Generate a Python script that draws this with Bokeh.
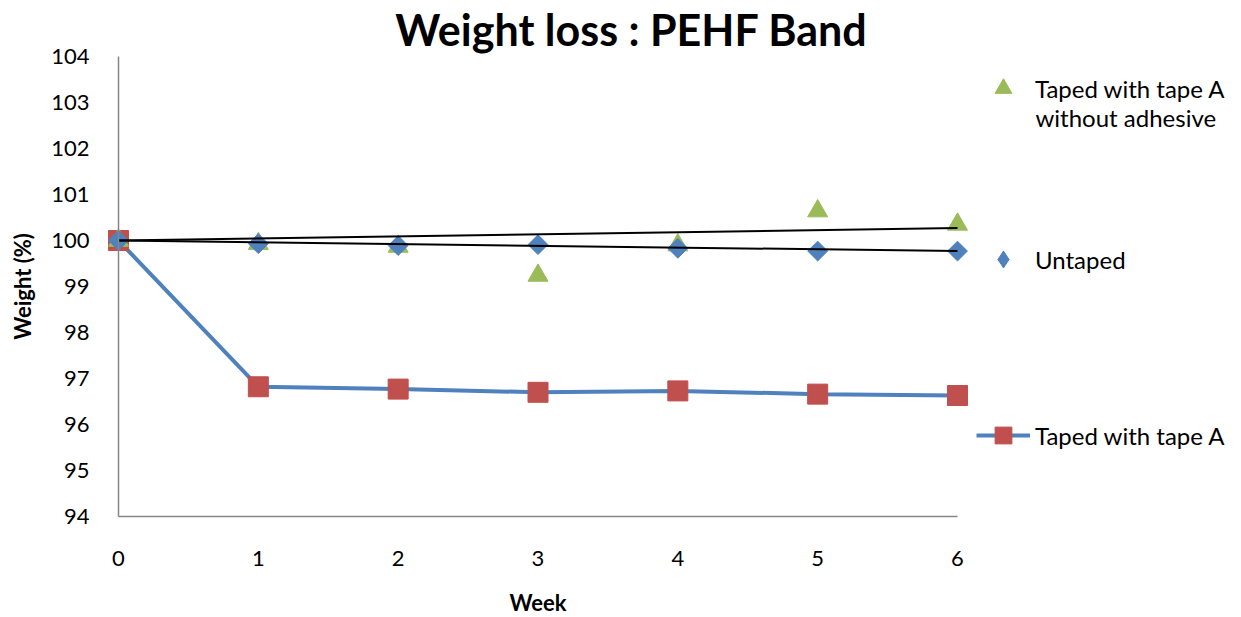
import numpy as np
from bokeh.plotting import figure
from bokeh.models import Range1d, Label, Legend, LegendItem, FixedTicker
from bokeh.embed import file_html
from bokeh.resources import INLINE

# ---- data ----
weeks = [0, 1, 2, 3, 4, 5, 6]
untaped = [100.0, 99.93, 99.89, 99.91, 99.83, 99.77, 99.77]
taped_no_adhesive = [100.0, 99.93, 99.87, 99.24, 99.9, 100.64, 100.35]
taped_a = [100.0, 96.82, 96.77, 96.70, 96.73, 96.66, 96.63]
trend_x = [0, 6]
trend_no_adhesive = [100.0, 100.27]
trend_untaped = [100.0, 99.77]
y_ticks = list(range(94, 105))
x_ticks = weeks

title_text = "Weight loss : PEHF Band"
x_label = "Week"
y_label = "Weight (%)"
label_no_adh_1 = "Taped with tape A"
label_no_adh_2 = "without adhesive"
label_untaped = "Untaped"
label_taped = "Taped with tape A"

BLUE = "#4F81BD"
RED = "#C0504D"
GREEN = "#9BBB59"
AXIS = "#868686"
FONT = "Lato"

W, H = 1241, 617
# layout: week 0 at px 118, week 6 at px 957; 104 at px 56, 94 at px 516
PX_X = (957 - 118) / 6.0
PX_Y = (516 - 56) / 10.0
x0 = -118 / PX_X
x1 = (W - 118) / PX_X
y0 = 94 - (H - 516) / PX_Y
y1 = 104 + 56 / PX_Y

p = figure(width=W, height=H, output_backend="svg", toolbar_location=None,
           x_range=Range1d(x0, x1), y_range=Range1d(y0, y1),
           min_border=0, min_border_left=0, min_border_right=0,
           min_border_top=0, min_border_bottom=0)
p.outline_line_color = None
p.xgrid.visible = False
p.ygrid.visible = False
p.background_fill_color = "white"
p.border_fill_color = "white"

# axes
p.xaxis.ticker = FixedTicker(ticks=x_ticks)
p.yaxis.ticker = FixedTicker(ticks=y_ticks)
p.xaxis.bounds = (x_ticks[0], x_ticks[-1])
p.yaxis.bounds = (y_ticks[0], y_ticks[-1])
p.xaxis.fixed_location = y_ticks[0]
p.yaxis.fixed_location = x_ticks[0]
for ax in (p.xaxis, p.yaxis):
    ax.axis_line_color = AXIS
    ax.axis_line_width = 1.5
    ax.major_tick_line_color = None
    ax.minor_tick_line_color = None
    ax.major_label_text_font = FONT
    ax.major_label_text_font_size = "22px"
    ax.major_label_text_color = "black"
    ax.axis_label_text_font = FONT
    ax.axis_label_text_font_style = "bold"
    ax.axis_label_text_font_size = "22px"
    ax.axis_label_text_color = "black"
p.xaxis.major_label_standoff = 28
p.yaxis.major_label_standoff = 23
p.xaxis.axis_label = x_label
p.yaxis.axis_label = y_label
p.xaxis.axis_label_standoff = 20
p.yaxis.axis_label_standoff = 12

# series
sq_line = p.line(weeks, taped_a, line_color=BLUE, line_width=4)
sq = p.scatter(weeks, taped_a, marker="square", size=20, fill_color=RED, line_color=RED)
tri = p.scatter(weeks, taped_no_adhesive, marker="triangle", size=20, fill_color=GREEN, line_color=GREEN)
# diamond key for the legend (legend glyphs ignore marker angle); hidden under the rotated squares
dia_key = p.scatter(weeks, untaped, marker="diamond", size=13, fill_color=BLUE, line_color=BLUE)
dia = p.scatter(weeks, untaped, marker="square", angle=np.pi / 4, size=14, fill_color=BLUE, line_color=BLUE)
p.line(trend_x, trend_no_adhesive, line_color="black", line_width=2)
p.line(trend_x, trend_untaped, line_color="black", line_width=2)

# title
p.add_layout(Label(x=631, y=H - 29, x_units="screen", y_units="screen", text=title_text,
                   text_font=FONT, text_font_style="bold", text_font_size="43px",
                   text_align="center", text_baseline="middle", text_color="black"))

# legends
def make_legend(label, renderers, loc, gh):
    lg = Legend(items=[LegendItem(label=label, renderers=renderers)], location=loc,
                glyph_width=54, glyph_height=gh, label_height=gh, label_standoff=5,
                padding=0, margin=0, spacing=0, border_line_color=None,
                background_fill_alpha=0, label_text_font=FONT, label_text_font_size="24px",
                label_text_color="black")
    p.add_layout(lg, "center")

make_legend(label_no_adh_1, [tri], (976, H - 109), 42)
make_legend(label_untaped, [dia_key], (976, H - 280), 42)
make_legend(label_taped, [sq_line, sq], (976, H - 456), 42)
p.add_layout(Label(x=1035, y=H - 117, x_units="screen", y_units="screen", text=label_no_adh_2,
                   text_font=FONT, text_font_size="24px", text_align="left",
                   text_baseline="middle", text_color="black"))

open("out.html", "w").write(file_html(p, INLINE))
